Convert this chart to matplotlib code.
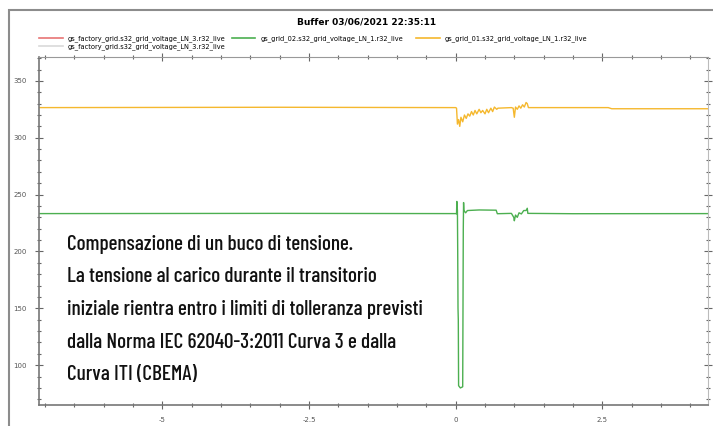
import matplotlib
matplotlib.use("Agg")
import matplotlib.pyplot as plt
from matplotlib.patches import Rectangle
from matplotlib.ticker import MultipleLocator, AutoMinorLocator, FuncFormatter

grid01_t = [-7.1, -3.0, 0.0, 0.015, 0.03, 0.05, 0.07, 0.09, 0.12, 0.15, 0.18,
            0.21, 0.24, 0.27, 0.30, 0.33, 0.36, 0.40, 0.43, 0.46, 0.50, 0.53,
            0.56, 0.60, 0.63, 0.66, 0.70, 0.72, 0.95, 0.98, 1.00, 1.02, 1.05,
            1.08, 1.11, 1.14, 1.17, 1.20, 1.22, 1.24, 2.60, 2.66, 4.3]
grid01_v = [326.5, 326.8, 326.5, 326.0, 312.0, 316.0, 310.0, 318.0, 314.0, 320.0, 317.0,
            321.0, 319.0, 323.0, 320.0, 324.0, 321.0, 325.0, 322.0, 324.0, 321.0, 325.0,
            322.0, 326.0, 323.0, 327.0, 325.0, 326.0, 326.5, 326.0, 318.0, 327.0, 325.0,
            328.0, 326.0, 329.0, 327.0, 331.0, 330.0, 326.5, 326.5, 325.5, 325.5]

grid02_t = [-7.1, -3.0, 0.0, 0.015, 0.02, 0.03, 0.035, 0.04, 0.045, 0.05, 0.08,
            0.12, 0.125, 0.13, 0.135, 0.14, 0.17, 0.20, 0.40, 0.69, 0.71, 0.95,
            0.99, 1.00, 1.02, 1.05, 1.08, 1.12, 1.16, 1.20, 1.22, 1.23, 2.0, 4.3]
grid02_v = [233.3, 233.5, 233.3, 233.0, 244.0, 236.0, 200.0, 150.0, 140.0, 82.0, 80.0,
            81.0, 150.0, 220.0, 243.0, 236.0, 234.0, 236.0, 236.5, 236.3, 233.2, 233.5,
            230.0, 227.0, 232.0, 230.0, 234.0, 233.0, 236.0, 236.0, 238.0, 233.5, 233.2, 233.3]

legend_labels = ["gs_factory_grid.s32_grid_voltage_LN_3.r32_live",
                 "gs_factory_grid.s32_grid_voltage_LN_3.r32_live",
                 "gs_grid_02.s32_grid_voltage_LN_1.r32_live",
                 "gs_grid_01.s32_grid_voltage_LN_1.r32_live"]
legend_colors = ["#e87474", "#d9d9d9", "#4caf50", "#f5b82e"]

note = ("Compensazione di un buco di tensione.\n"
        "La tensione al carico durante il transitorio\n"
        "iniziale rientra entro i limiti di tolleranza previsti\n"
        "dalla Norma IEC 62040-3:2011 Curva 3 e dalla\n"
        "Curva ITI (CBEMA)")

fig = plt.figure(figsize=(7.13, 4.26), dpi=100)
fig.patches.append(Rectangle((9 / 713, -0.1), 1.1, 1.1 - 10 / 426,
                             transform=fig.transFigure, fill=False,
                             edgecolor="#8c8c8c", linewidth=1.5))

ax = fig.add_axes([39 / 713, 21 / 426, 669 / 713, 348 / 426])
ax.plot(grid01_t, grid01_v, color="#f5b82e", linewidth=1)
ax.plot(grid02_t, grid02_v, color="#4caf50", linewidth=1)

ax.set_xlim(-7.1, 4.3)
ax.set_ylim(65, 371)
ax.xaxis.set_major_locator(MultipleLocator(2.5))
ax.xaxis.set_minor_locator(MultipleLocator(0.5))
ax.yaxis.set_major_locator(MultipleLocator(50))
ax.yaxis.set_minor_locator(AutoMinorLocator(5))
ax.xaxis.set_major_formatter(FuncFormatter(lambda v, p: f"{v:g}"))
ax.tick_params(which="both", direction="inout", top=True, right=True,
               labelsize=5, labelcolor="#555555", color="#666666", width=0.8)
ax.tick_params(which="major", length=6, pad=6)
ax.tick_params(which="minor", length=3)
ax.spines["top"].set_color("#999999")
ax.spines["right"].set_color("#bbbbbb")
for side in ["left", "bottom"]:
    ax.spines[side].set_color("#777777")
    ax.spines[side].set_linewidth(1.2)

fig.text(367 / 713, 1 - 22 / 426, "Buffer 03/06/2021 22:35:11", ha="center",
         va="center", fontsize=6.5, fontweight="bold")

# legend: first two columns, then the third entry placed on its own
handles = [plt.Line2D([], [], color=c, linewidth=1.2) for c in legend_colors]
leg_kw = dict(loc="upper left", frameon=False, fontsize=4.8, handlelength=3.5,
              handletextpad=0.8, labelspacing=0.2, borderpad=0)
fig.legend(handles[:3], legend_labels[:3], ncol=2, columnspacing=0.9,
           bbox_to_anchor=(36 / 713, 1 - 32 / 426), **leg_kw)
fig.legend(handles[3:], legend_labels[3:], ncol=1,
           bbox_to_anchor=(413 / 713, 1 - 32 / 426), **leg_kw)

fig.text(67 / 713, 1 - 235 / 426, note, ha="left", va="top", fontsize=15.3,
         linespacing=1.9, fontweight="medium",
         family=["Barlow Condensed", "DejaVu Sans"], color="#111111")

fig.savefig("out.png", dpi=100)
